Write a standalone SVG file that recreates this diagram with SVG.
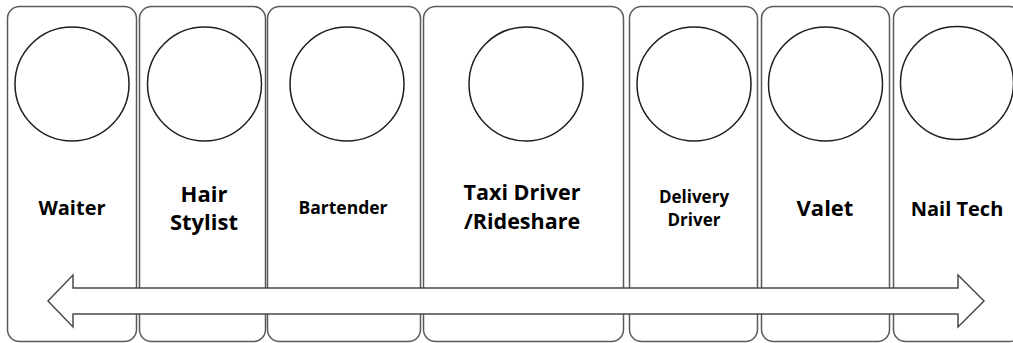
<svg xmlns="http://www.w3.org/2000/svg" width="1013" height="343" viewBox="0 0 1013 343">
  <style>
    .panel { fill: #ffffff; stroke: #5a5a5a; stroke-width: 1.5; }
    .ring { fill: #ffffff; stroke: #1e1e1e; stroke-width: 1.5; }
    .label { font-family: "Open Sans", "Liberation Sans", sans-serif; font-weight: 700; fill: #000000; text-anchor: middle; }
    .arrow { fill: #ffffff; stroke: #4a4a4a; stroke-width: 1.5; stroke-linejoin: miter; }
  </style>
  <rect width="1013" height="343" fill="#ffffff"/>

  <g id="waiter">
    <rect class="panel" x="7.5" y="6.5" width="129" height="335" rx="12"/>
    <circle class="ring" cx="72" cy="84" r="57"/>
    <text class="label" x="72" y="215" font-size="20">Waiter</text>
  </g>

  <g id="hair-stylist">
    <rect class="panel" x="139.5" y="6.5" width="126" height="335" rx="12"/>
    <circle class="ring" cx="204.5" cy="84" r="57"/>
    <text class="label" x="204" y="202" font-size="22">Hair</text>
    <text class="label" x="204" y="230" font-size="22">Stylist</text>
  </g>

  <g id="bartender">
    <rect class="panel" x="267.5" y="6.5" width="153" height="335" rx="12"/>
    <circle class="ring" cx="347" cy="84" r="57"/>
    <text class="label" x="343" y="214" font-size="17.5">Bartender</text>
  </g>

  <g id="taxi-driver">
    <rect class="panel" x="423.5" y="6.5" width="200" height="335" rx="12"/>
    <circle class="ring" cx="526" cy="84" r="57"/>
    <text class="label" x="522" y="200" font-size="21.5">Taxi Driver</text>
    <text class="label" x="522" y="229" font-size="21.5">/Rideshare</text>
  </g>

  <g id="delivery-driver">
    <rect class="panel" x="629.5" y="6.5" width="128" height="335" rx="12"/>
    <circle class="ring" cx="694" cy="84" r="57"/>
    <text class="label" x="694" y="203" font-size="17">Delivery</text>
    <text class="label" x="694" y="226" font-size="17">Driver</text>
  </g>

  <g id="valet">
    <rect class="panel" x="761.5" y="6.5" width="128" height="335" rx="12"/>
    <circle class="ring" cx="825.5" cy="84" r="57"/>
    <text class="label" x="825" y="216" font-size="22">Valet</text>
  </g>

  <g id="nail-tech">
    <rect class="panel" x="893.5" y="6.5" width="128" height="335" rx="12"/>
    <circle class="ring" cx="957" cy="83" r="56.5"/>
    <text class="label" x="957" y="216" font-size="20">Nail Tech</text>
  </g>

  <g id="connectors">
    <polygon class="arrow" points="48,301 73,275 73,288 958,288 958,275 984,301 958,327 958,314 73,314 73,327"/>
  </g>
</svg>
